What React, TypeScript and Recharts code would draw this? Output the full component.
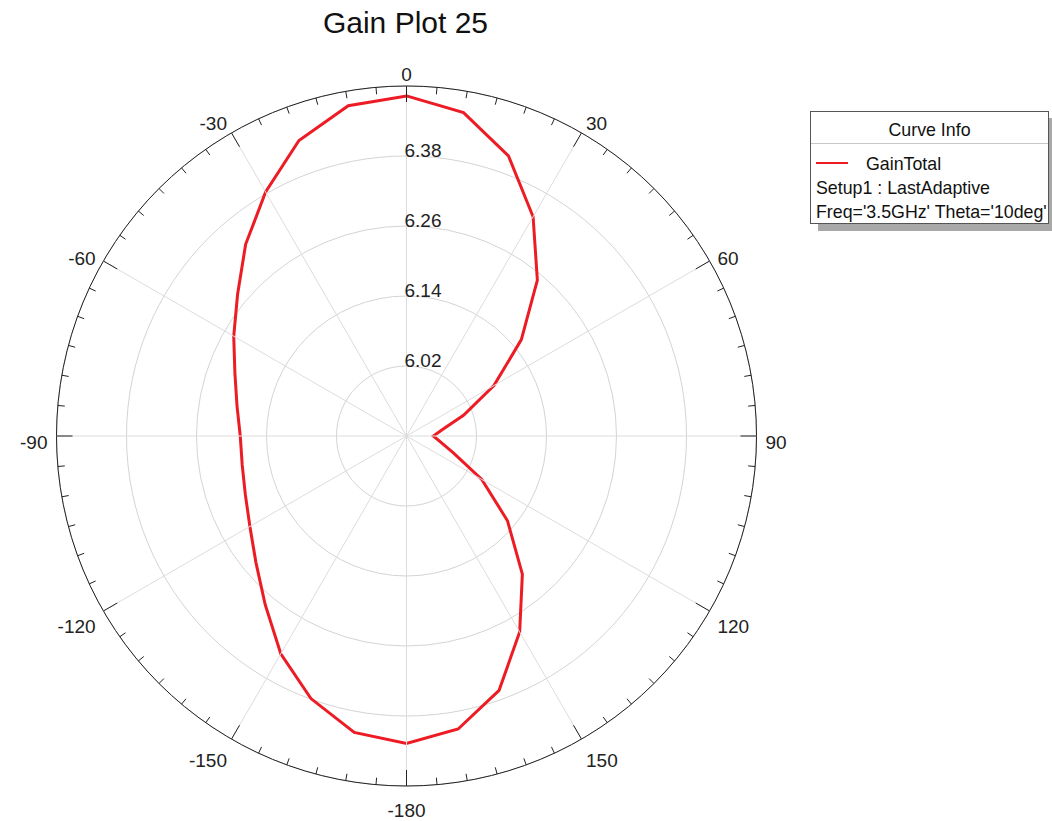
import React from "react";
import {
  RadarChart,
  PolarGrid,
  PolarAngleAxis,
  PolarRadiusAxis,
  Radar,
  Legend,
} from "recharts";

const FONT = "'Liberation Sans', Arial, sans-serif";
const RAD = Math.PI / 180;

// theta in degrees, 0 at the top, clockwise
const angles = [
  0, 10, 20, 30, 40, 50, 60, 70, 80, 90, 100, 110, 120, 130, 140, 150, 160, 170,
  -180, -170, -160, -150, -140, -130, -120, -110, -100, -90, -80, -70, -60, -50,
  -40, -30, -20, -10,
];

// GainTotal (dB)
const gainTotal = [
  6.483, 6.463, 6.411, 6.334, 6.249, 6.157, 6.073, 6.004, 5.962, 5.946, 5.959,
  5.986, 6.049, 6.126, 6.209, 6.288, 6.364, 6.41, 6.427, 6.416, 6.379, 6.331,
  6.277, 6.237, 6.21, 6.194, 6.186, 6.185, 6.195, 6.213, 6.242, 6.278, 6.329,
  6.383, 6.439, 6.475,
];

const radiusTicks = [5.9, 6.02, 6.14, 6.26, 6.38, 6.5];
const radiusLabels = ["", "6.02", "6.14", "6.26", "6.38", ""];

const data = angles.map((angle, i) => ({ angle, gain: gainTotal[i] }));

function AngleTick(props: any) {
  const { cx, cy, radius, payload } = props;
  const a = payload.coordinate;
  const pt = (r: number, deg: number) => ({
    x: cx + r * Math.cos(-deg * RAD),
    y: cy + r * Math.sin(-deg * RAD),
  });
  const major = payload.value % 30 === 0;
  const o = pt(radius, a);
  const i = pt(radius - (major ? 16 : 7), a);
  const mo = pt(radius, a - 5);
  const mi = pt(radius - 7, a - 5);

  let label = null;
  if (major) {
    const c = Math.cos(a * RAD);
    const s = Math.sin(a * RAD);
    const p = pt(radius + 9, a);
    const anchor = c > 0.1 ? "start" : c < -0.1 ? "end" : "middle";
    label = (
      <text
        x={p.x}
        y={p.y + 6 - 9 * s}
        dy="0.35em"
        textAnchor={anchor}
        fontFamily={FONT}
        fontSize={19}
        fill="#222"
      >
        {payload.value}
      </text>
    );
  }

  return (
    <g>
      {major && (
        <line x1={cx} y1={cy} x2={o.x} y2={o.y} stroke="#dcdcdc" strokeWidth={1} />
      )}
      <line x1={o.x} y1={o.y} x2={i.x} y2={i.y} stroke="#222" strokeWidth={1} />
      <line x1={mo.x} y1={mo.y} x2={mi.x} y2={mi.y} stroke="#222" strokeWidth={1} />
      {label}
    </g>
  );
}

function RadiusTick(props: any) {
  const { x, y, index } = props;
  const text = radiusLabels[index];
  if (!text) return <g />;
  return (
    <text
      x={x - 2}
      y={y - 6}
      dy="0.35em"
      textAnchor="start"
      fontFamily={FONT}
      fontSize={19}
      fill="#222"
    >
      {text}
    </text>
  );
}

function CurveInfo(props: any) {
  const item = props.payload && props.payload[0];
  return (
    <div
      style={{
        width: 237,
        height: 111,
        border: "1px solid #555",
        background: "#fff",
        boxShadow: "8px 7px 0 #a8a8a8",
        fontFamily: FONT,
        fontSize: 17.8,
        color: "#111",
        whiteSpace: "nowrap",
        textAlign: "left",
      }}
    >
      <div
        style={{
          height: 26,
          paddingTop: 5,
          lineHeight: "26px",
          textAlign: "center",
          borderBottom: "1px solid #c8c8c8",
        }}
      >
        Curve Info
      </div>
      <div style={{ marginTop: 8, paddingLeft: 5, lineHeight: "24px" }}>
        <span
          style={{
            display: "inline-block",
            width: 32,
            height: 2,
            background: item ? item.color : "#ed1c24",
            verticalAlign: "middle",
            marginRight: 18,
            marginTop: -5,
          }}
        />
        {item ? item.value : "GainTotal"}
      </div>
      <div style={{ paddingLeft: 5, lineHeight: "24px" }}>Setup1 : LastAdaptive</div>
      <div style={{ paddingLeft: 5, lineHeight: "24px" }}>
        Freq='3.5GHz' Theta='10deg'
      </div>
    </div>
  );
}

export default function App() {
  return (
    <div
      style={{
        position: "absolute",
        left: 0,
        top: 0,
        width: 1052,
        height: 821,
        background: "#fff",
      }}
    >
      <div
        style={{
          position: "absolute",
          left: 0,
          top: 8,
          width: 811,
          textAlign: "center",
          fontFamily: FONT,
          fontSize: 30,
          lineHeight: "30px",
          color: "#111",
        }}
      >
        Gain Plot 25
      </div>
      <RadarChart
        width={1052}
        height={821}
        data={data}
        cx={406.5}
        cy={436}
        outerRadius={350}
        startAngle={90}
        endAngle={-270}
        margin={{ top: 0, right: 0, bottom: 0, left: 0 }}
      >
        <PolarGrid gridType="circle" radialLines={false} stroke="#d4d4d4" />
        <PolarAngleAxis
          dataKey="angle"
          tick={AngleTick}
          tickLine={false}
          axisLine={{ stroke: "#222" }}
          axisLineType="circle"
        />
        <PolarRadiusAxis
          type="number"
          angle={90}
          domain={[5.9, 6.5]}
          allowDataOverflow={true}
          allowDecimals={true}
          tickCount={6}
          ticks={radiusTicks as any}
          tick={RadiusTick}
          axisLine={false}
          tickLine={false}
        />
        <Radar
          name="GainTotal"
          dataKey="gain"
          stroke="#ed1c24"
          strokeWidth={3}
          fill="none"
          fillOpacity={0}
          dot={false}
          isAnimationActive={false}
        />
        <Legend
          content={CurveInfo}
          wrapperStyle={{ position: "absolute", left: 810, top: 111, width: 239 }}
        />
      </RadarChart>
    </div>
  );
}
